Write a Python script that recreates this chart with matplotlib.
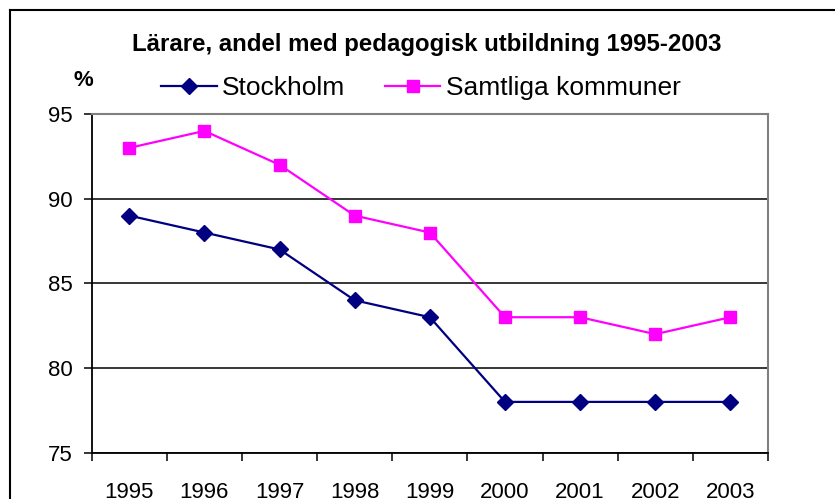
import matplotlib.pyplot as plt
from matplotlib.lines import Line2D

plt.rcParams['font.family'] = ['Liberation Sans', 'DejaVu Sans']

# data
years = ['1995', '1996', '1997', '1998', '1999', '2000', '2001', '2002', '2003']
stockholm = [89, 88, 87, 84, 83, 78, 78, 78, 78]
samtliga = [93, 94, 92, 89, 88, 83, 83, 82, 83]
y_ticks = [75, 80, 85, 90, 95]

W, H = 835, 499
fig = plt.figure(figsize=(W / 100, H / 100), dpi=100)
ax = fig.add_axes([91.7 / W, 1 - 452.7 / H, (768 - 91.7) / W, (452.7 - 114) / H])

x = list(range(len(years)))
ax.plot(x, stockholm, color='#000080', lw=1.6, marker='D', ms=7.8,
        label='Stockholm', clip_on=False, zorder=3)
ax.plot(x, samtliga, color='#FF00FF', lw=1.6, marker='s', ms=8.6,
        label='Samtliga kommuner', clip_on=False, zorder=3)

ax.set_xlim(-0.5, len(years) - 0.5)
ax.set_ylim(75, 95)

# category ticks sit between the years, labels in the middle
ax.set_xticks([i - 0.5 for i in range(len(years) + 1)])
ax.set_xticklabels([])
ax.set_xticks(x, minor=True)
ax.set_xticklabels(years, minor=True)
ax.tick_params(axis='x', which='major', direction='out', length=5.8, width=1.1, color='black')
ax.tick_params(axis='x', which='minor', length=0, pad=21, labelsize=16)
ax.set_yticks(y_ticks)
ax.set_yticklabels([str(v) for v in y_ticks])
ax.tick_params(axis='y', direction='out', length=5.8, width=1.1, pad=8, labelsize=16)

ax.yaxis.grid(True, color='black', lw=1.1)
for side in ['left', 'bottom']:
    ax.spines[side].set_color('black')
    ax.spines[side].set_linewidth(1.3)
for side in ['top', 'right']:
    ax.spines[side].set_color('#808080')
    ax.spines[side].set_linewidth(1.5)

fig.text(427 / W, 1 - 45 / H, 'Lärare, andel med pedagogisk utbildning 1995-2003',
         ha='center', va='center', fontsize=17.3, fontweight='bold')
fig.text(83 / W, 1 - 81 / H, '%', ha='center', va='center', fontsize=16, fontweight='bold')

ax.legend(loc='center', bbox_to_anchor=(421 / W, 1 - 88 / H), bbox_transform=fig.transFigure,
          ncol=2, frameon=False, fontsize=19, handlelength=2.1, handletextpad=0.2,
          columnspacing=1.5, borderpad=0, borderaxespad=0)

# outer chart border (only top and left edges are inside the picture)
fig.add_artist(Line2D([10 / W, 10 / W], [0, 1 - 10 / H], transform=fig.transFigure,
                      color='black', lw=1.5))
fig.add_artist(Line2D([10 / W, 1], [1 - 10 / H, 1 - 10 / H], transform=fig.transFigure,
                      color='black', lw=1.5))

fig.savefig('out.png', dpi=100)
